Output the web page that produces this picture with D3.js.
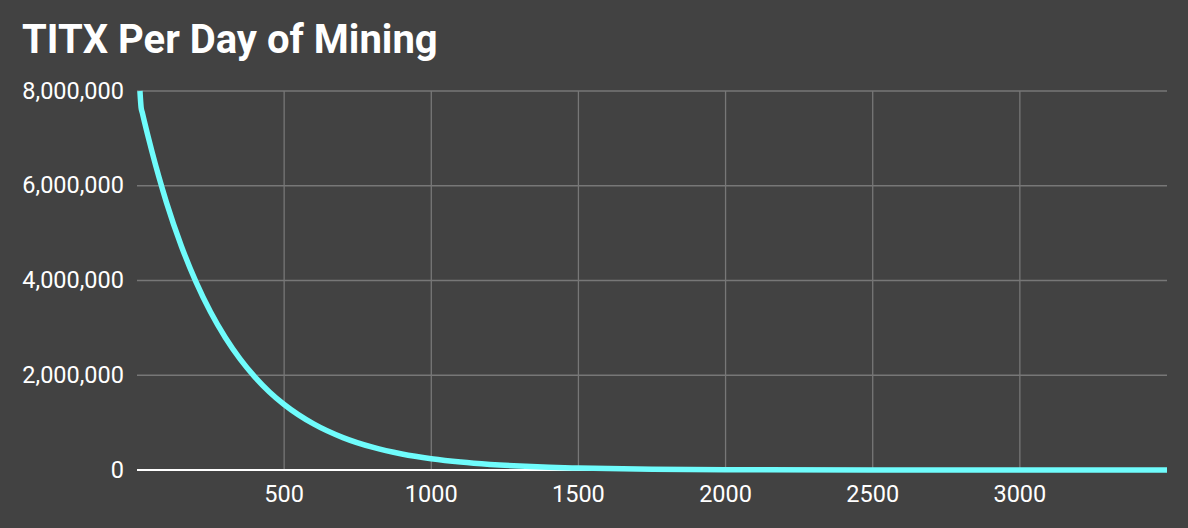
<!DOCTYPE html>
<html>
<head>
<meta charset="utf-8">
<script src="https://cdn.jsdelivr.net/npm/d3@7"></script>
<style>
  html, body { margin: 0; padding: 0; background: #424242; }
  svg { display: block; }
</style>
</head>
<body>
<svg id="chart" width="1188" height="528"></svg>
<script>
const title = "TITX Per Day of Mining";
const days = [10, 14, 18, 25, 35, 50, 75, 100, 150, 200, 250, 300, 350, 400, 450, 500, 600, 700, 800, 900, 1000, 1100, 1200, 1300, 1400, 1500, 1750, 2000, 2500, 3000, 3500];
const titx = [8000000, 7650000, 7543000, 7360000, 7105000, 6740000, 6172000, 5650000, 4740000, 3976000, 3334000, 2796000, 2345000, 1967000, 1649000, 1383000, 973000, 684000, 481000, 338000, 238000, 167000, 118000, 83000, 58000, 41000, 17000, 7100, 1200, 200, 30];
const xTicks = [500, 1000, 1500, 2000, 2500, 3000];
const yTicks = [0, 2000000, 4000000, 6000000, 8000000];

(function () {
const svg = d3.select("#chart");
const W = 1188, H = 528;
const pLeft = 137, pRight = 1167, pTop = 91, pBottom = 470;

svg.append("rect").attr("width", W).attr("height", H).attr("fill", "#424242");

const x = d3.scaleLinear().domain([0, 3500]).range([pLeft, pRight]);
const y = d3.scaleLinear().domain([0, 8000000]).range([pBottom, pTop]);

const font = "Roboto, 'Noto Sans', sans-serif";

svg.append("text")
  .attr("x", 22).attr("y", 53)
  .attr("fill", "#ffffff")
  .attr("font-family", font)
  .attr("font-weight", 700)
  .attr("font-size", 40)
  .text(title);

// horizontal gridlines
svg.append("g").selectAll("line")
  .data(yTicks.filter(d => d !== 0))
  .join("line")
  .attr("x1", pLeft).attr("x2", pRight)
  .attr("y1", d => y(d)).attr("y2", d => y(d))
  .attr("stroke", "#777777").attr("stroke-width", 1.3);

// vertical gridlines
svg.append("g").selectAll("line")
  .data(xTicks)
  .join("line")
  .attr("x1", d => x(d)).attr("x2", d => x(d))
  .attr("y1", pTop).attr("y2", pBottom)
  .attr("stroke", "#777777").attr("stroke-width", 1.3);

// zero line
svg.append("line")
  .attr("x1", pLeft).attr("x2", pRight)
  .attr("y1", y(0)).attr("y2", y(0))
  .attr("stroke", "#ffffff").attr("stroke-width", 2);

// y labels
const fmt = d3.format(",");
svg.append("g").selectAll("text")
  .data(yTicks)
  .join("text")
  .attr("x", 124)
  .attr("y", d => y(d) + 7.5)
  .attr("text-anchor", "end")
  .attr("fill", "#ffffff")
  .attr("font-family", font)
  .attr("font-size", 23.5)
  .text(d => fmt(d));

// x labels
svg.append("g").selectAll("text")
  .data(xTicks)
  .join("text")
  .attr("x", d => x(d))
  .attr("y", 502)
  .attr("text-anchor", "middle")
  .attr("fill", "#ffffff")
  .attr("font-family", font)
  .attr("font-size", 23.5)
  .text(d => d);

// line
const pts = days.map((d, i) => [d, titx[i]]);
const line = d3.line()
  .x(d => x(d[0]))
  .y(d => y(d[1]))
  .curve(d3.curveMonotoneX);

svg.append("path")
  .datum(pts)
  .attr("d", line)
  .attr("fill", "none")
  .attr("stroke", "#6ffcfc")
  .attr("stroke-width", 5.5)
  .attr("stroke-linejoin", "round");
})();
</script>
</body>
</html>
